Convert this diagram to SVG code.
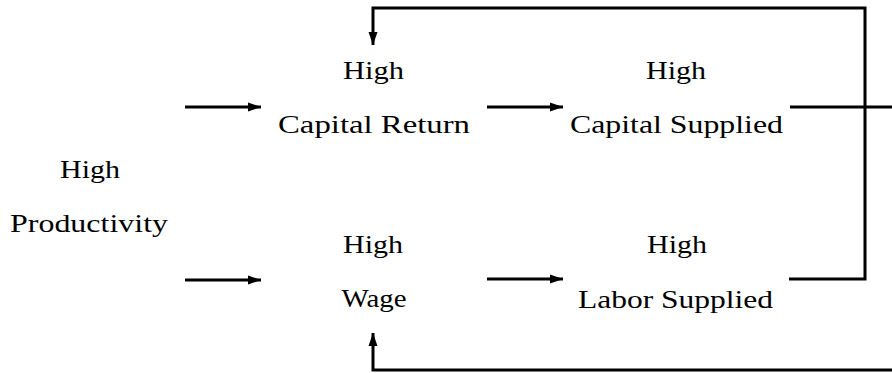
<svg xmlns="http://www.w3.org/2000/svg" width="892" height="373" viewBox="0 0 892 373">
<style>
.t{font-size:25px;fill:#000;text-anchor:middle}
.c{fill:none;stroke:#000;stroke-width:3}
</style>
<defs>
<marker id="ah" markerUnits="userSpaceOnUse" markerWidth="14" markerHeight="10" refX="13" refY="5" orient="auto">
<path d="M0,0.5 L13,5 L0,9.5 Z" fill="#000"/>
</marker>
</defs>
<rect width="892" height="373" fill="#fff"/>
<g font-family="Liberation Serif" font-size="25" text-anchor="middle">
<g id="productivity"><text class="t" x="90" y="178" textLength="60" lengthAdjust="spacingAndGlyphs">High</text><text class="t" x="89" y="232" textLength="158" lengthAdjust="spacingAndGlyphs">Productivity</text></g>
<g id="capital-return"><text class="t" x="373.5" y="79" textLength="61" lengthAdjust="spacingAndGlyphs">High</text><text class="t" x="374" y="133" textLength="192" lengthAdjust="spacingAndGlyphs">Capital Return</text></g>
<g id="capital-supplied"><text class="t" x="676" y="79" textLength="60" lengthAdjust="spacingAndGlyphs">High</text><text class="t" x="676.5" y="133" textLength="213" lengthAdjust="spacingAndGlyphs">Capital Supplied</text></g>
<g id="wage"><text class="t" x="373" y="253" textLength="60" lengthAdjust="spacingAndGlyphs">High</text><text class="t" x="374" y="307" textLength="65" lengthAdjust="spacingAndGlyphs">Wage</text></g>
<g id="labor-supplied"><text class="t" x="677" y="253" textLength="60" lengthAdjust="spacingAndGlyphs">High</text><text class="t" x="675.5" y="308" textLength="195" lengthAdjust="spacingAndGlyphs">Labor Supplied</text></g>
</g>
<g id="connectors">
<line class="c" x1="185" y1="107" x2="261" y2="107" marker-end="url(#ah)"/>
<line class="c" x1="487" y1="107" x2="563" y2="107" marker-end="url(#ah)"/>
<line class="c" x1="185" y1="280" x2="261" y2="280" marker-end="url(#ah)"/>
<line class="c" x1="487" y1="279" x2="563" y2="279" marker-end="url(#ah)"/>
<line class="c" x1="790" y1="107" x2="892" y2="107"/>
<polyline class="c" points="789,279 865,279 865,8 373,8 373,45" marker-end="url(#ah)"/>
<polyline class="c" points="892,370 373,370 373,333" marker-end="url(#ah)"/>
</g>
</svg>
